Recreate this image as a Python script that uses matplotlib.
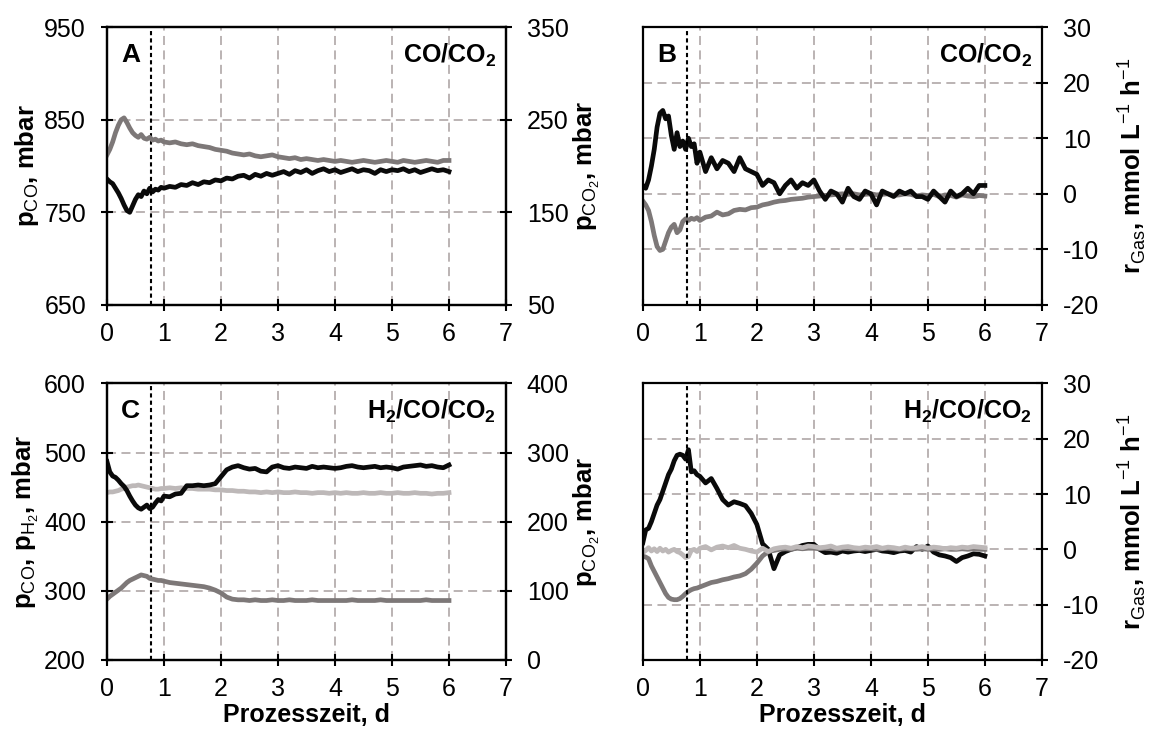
import matplotlib
matplotlib.use("Agg")
import matplotlib.pyplot as plt

plt.rcParams['font.family'] = ['Liberation Sans Narrow', 'Liberation Sans', 'DejaVu Sans']
plt.rcParams['mathtext.fontset'] = 'custom'
plt.rcParams['mathtext.rm'] = 'Liberation Sans'
plt.rcParams['mathtext.bf'] = 'Liberation Sans:bold'
plt.rcParams['axes.unicode_minus'] = False

# time grid, d
t = [0.00, 0.05, 0.10, 0.15, 0.20, 0.25, 0.30, 0.35, 0.40, 0.45,
     0.50, 0.55, 0.60, 0.65, 0.70, 0.75, 0.80, 0.85, 0.90, 0.95,
     1.0, 1.1, 1.2, 1.3, 1.4, 1.5, 1.6, 1.7, 1.8, 1.9,
     2.0, 2.1, 2.2, 2.3, 2.4, 2.5, 2.6, 2.7, 2.8, 2.9,
     3.0, 3.1, 3.2, 3.3, 3.4, 3.5, 3.6, 3.7, 3.8, 3.9,
     4.0, 4.1, 4.2, 4.3, 4.4, 4.5, 4.6, 4.7, 4.8, 4.9,
     5.0, 5.1, 5.2, 5.3, 5.4, 5.5, 5.6, 5.7, 5.8, 5.9,
     6.0]

# panel A: CO/CO2, partial pressures
a_pco = [786, 783, 781, 776, 771, 765, 758, 752, 750, 757,
         764, 769, 767, 773, 770, 776, 772, 775, 774, 777,
         776, 778, 777, 780, 779, 782, 780, 783, 782, 785,
         784, 787, 786, 789, 790, 787, 791, 789, 792, 790,
         792, 794, 791, 795, 793, 796, 792, 795, 797, 794,
         796, 793, 795, 797, 794, 796, 795, 792, 796, 794,
         796, 795, 797, 794, 796, 793, 795, 797, 795, 796,
         794]
a_pco2 = [212, 218, 226, 236, 244, 250, 252, 247, 241, 236,
          233, 231, 234, 230, 229, 231, 228, 229, 227, 228,
          226, 225, 226, 224, 223, 224, 222, 221, 220, 218,
          217, 216, 214, 213, 212, 213, 211, 210, 211, 212,
          210, 209, 208, 209, 207, 208, 207, 206, 207, 206,
          205, 206, 205, 204, 205, 206, 205, 204, 205, 206,
          205, 204, 206, 205, 204, 205, 206, 205, 204, 206,
          206]

# panel B: CO/CO2, rates
b_rco = [1.5, 1.0, 2.5, 5.0, 8.0, 12.0, 14.5, 15.0, 13.5, 14.0,
         10.5, 8.0, 11.0, 8.5, 9.5, 8.0, 10.0, 8.5, 9.0, 5.5,
         7.5, 4.0, 6.5, 4.5, 6.0, 5.5, 4.0, 6.5, 4.5, 4.0,
         3.5, 1.5, 2.5, 2.0, 0.0, 1.5, 2.5, 1.0, 2.0, 1.5,
         2.5, 0.5, -1.0, 0.5, 0.0, -1.5, 1.0, -0.5, -1.0, 0.5,
         0.0, -2.0, 0.5, 0.0, -0.5, 0.5, 0.0, 0.5, -0.5, -0.5,
         -1.0, 0.5, -0.5, -1.5, 0.5, -0.5, 0.0, 1.0, 0.0, 1.5,
         1.5]
b_rco2 = [-1.3, -2.0, -3.0, -5.0, -7.5, -9.5, -10.2, -10.0, -8.5, -7.0,
          -6.0, -5.5, -7.0, -6.5, -5.0, -4.5, -4.8, -4.4, -4.6, -4.3,
          -4.8, -4.2, -4.0, -3.3, -3.8, -3.6, -3.0, -2.8, -2.9, -2.5,
          -2.4, -2.0, -1.8, -1.5, -1.3, -1.2, -1.0, -0.9, -0.8, -0.6,
          -0.5, -0.4, -0.3, -0.2, -0.1, 0.0, -0.1, 0.0, -0.2, -0.1,
          0.0, -0.2, -0.1, 0.0, -0.3, -0.2, 0.0, -0.1, -0.4, -0.2,
          -0.3, -0.1, -0.5, -0.2, -0.3, -0.6, -0.2, -0.4, -0.5, -0.3,
          -0.4]

# panel C: H2/CO/CO2, partial pressures
c_pco = [487, 472, 466, 464, 460, 455, 451, 445, 437, 430,
         424, 420, 418, 421, 424, 419, 421, 427, 432, 430,
         437, 436, 440, 441, 452, 452, 453, 452, 453, 455,
         465, 475, 479, 481, 478, 476, 477, 473, 472, 479,
         481, 478, 477, 479, 478, 477, 480, 478, 479, 478,
         477, 478, 480, 481, 479, 478, 479, 480, 478, 479,
         478, 476, 479, 480, 481, 482, 480, 481, 479, 478,
         482]
c_ph2 = [442, 443, 443, 444, 445, 447, 448, 450, 451, 452,
         452, 453, 452, 451, 450, 449, 448, 447, 447, 448,
         448, 449, 448, 449, 448, 448, 447, 447, 447, 446,
         446, 445, 445, 444, 444, 443, 443, 442, 443, 442,
         443, 442, 442, 443, 442, 442, 441, 442, 442, 441,
         442, 441, 442, 441, 441, 442, 441, 441, 442, 441,
         441, 442, 441, 441, 442, 441, 441, 440, 441, 441,
         442]
c_pco2 = [88, 92, 95, 98, 101, 104, 108, 112, 115, 117,
          119, 121, 123, 122, 121, 118, 117, 116, 115, 115,
          114, 112, 111, 110, 109, 108, 107, 106, 104, 101,
          97, 91, 88, 87, 87, 86, 87, 86, 86, 87,
          86, 86, 87, 86, 86, 86, 87, 86, 86, 86,
          86, 86, 86, 87, 86, 86, 86, 86, 87, 86,
          86, 86, 86, 86, 86, 86, 87, 86, 86, 86,
          86]

# panel D: H2/CO/CO2, rates
d_rco = [1.2, 3.5, 3.8, 5.0, 6.5, 8.0, 9.0, 10.5, 12.0, 13.5,
         14.5, 16.0, 17.0, 17.2, 17.0, 16.3, 18.0, 14.0, 14.2, 13.5,
         13.2, 12.0, 12.8, 11.0, 9.0, 8.0, 8.6, 8.3, 7.9, 6.5,
         4.5, 1.0, 0.0, -3.5, -1.0, -0.4, 0.0, 0.3, 0.7, 0.9,
         0.9, 0.0, -0.6, -0.5, -0.7, -0.3, -0.5, -0.3, -0.2, -0.4,
         -0.2, 0.0, -0.3, -0.4, -0.6, -0.3, -0.2, -0.5, 0.5, 0.0,
         0.6, -0.5, -1.0, -1.2, -1.5, -2.2, -1.5, -1.2, -0.8, -0.9,
         -1.2]
d_rh2 = [-0.6, -0.2, 0.3, -0.3, 0.1, -0.4, 0.2, -0.3, 0.0, -0.5,
         -0.2, 0.0, -0.4, -0.6, -1.0, -1.5, -1.3, -0.2, 0.0, -0.4,
         0.2, 0.5, -0.1, 0.4, 0.6, 0.3, 0.7, 0.2, 0.0, -0.3,
         -0.5, 0.2, -0.4, 0.1, 0.3, 0.4, 0.2, 0.5, 0.3, 0.6,
         0.5, 0.3, 0.4, 0.6, 0.2, 0.4, 0.5, 0.3, 0.2, 0.4,
         0.3, 0.5, 0.2, 0.4, 0.3, 0.1, 0.4, 0.2, 0.3, 0.5,
         0.2, 0.4, 0.3, 0.1, 0.3, 0.2, 0.4, 0.3, 0.5, 0.4,
         0.3]
d_rco2 = [-1.2, -1.4, -1.7, -3.0, -4.0, -5.0, -6.0, -7.0, -8.0, -8.7,
          -9.0, -9.1, -9.1, -8.9, -8.5, -8.0, -7.6, -7.3, -7.1, -7.0,
          -6.8, -6.4, -6.0, -5.8, -5.5, -5.3, -5.0, -4.8, -4.4, -3.6,
          -2.5, -1.2, -0.4, -0.2, 0.0, 0.1, 0.0, 0.2, 0.1, 0.2,
          0.2, 0.1, 0.2, 0.1, 0.0, 0.2, 0.1, 0.1, 0.0, 0.1,
          0.1, 0.0, 0.1, 0.2, 0.1, 0.0, 0.1, 0.1, 0.0, 0.1,
          0.0, 0.1, 0.0, 0.1, 0.0, 0.0, 0.1, 0.0, 0.1, 0.0,
          0.0]

t_switch = 0.78
BLACK = '#0a0a0a'
DARK = '#7d7878'
LIGHT = '#bdb8b8'
GRID = '#b5aeae'
LW = 3.4
TICK_FS = 18
LABEL_FS = 18.5
XLABEL_FS = 18


def style(ax, left_ticks=True):
    ax.set_xlim(0, 7)
    ax.set_xticks(range(8))
    ax.grid(True, linestyle=(0, (5, 3)), color=GRID, lw=1.3)
    for s in ax.spines.values():
        s.set_linewidth(1.6)
    ax.tick_params(direction='inout', length=8, width=1.5, labelsize=TICK_FS,
                   left=left_ticks, labelleft=left_ticks)
    ax.tick_params(axis='y', pad=11)
    ax.tick_params(axis='x', pad=8)
    ax.axvline(t_switch, color='black', lw=1.5, linestyle=(0, (2, 1.5)), zorder=3)


def style_right(ax):
    for s in ax.spines.values():
        s.set_linewidth(1.6)
    ax.tick_params(direction='inout', length=8, width=1.5, labelsize=TICK_FS, pad=11)


def tag(ax, letter, gas):
    if letter:
        ax.text(0.035, 0.9, letter, transform=ax.transAxes, fontsize=19,
                fontweight='bold', va='center', ha='left', zorder=5)
    ax.text(0.975, 0.9, gas, transform=ax.transAxes, fontsize=18,
            fontweight='bold', va='center', ha='right', zorder=5)


fig = plt.figure(figsize=(11.5, 7.33), dpi=100)
axA = fig.add_axes([0.093, 0.584, 0.347, 0.379])
axB = fig.add_axes([0.559, 0.584, 0.347, 0.379])
axC = fig.add_axes([0.093, 0.0996, 0.347, 0.3774])
axD = fig.add_axes([0.559, 0.0996, 0.347, 0.3774])

r_label = r'$\mathbf{r}_{\mathrm{Gas}}$, mmol L$^{\mathrm{-1}}$ h$^{\mathrm{-1}}$'

# A
style(axA)
axA.plot(t, a_pco, color=BLACK, lw=LW, zorder=2)
axA.set_ylim(650, 950)
axA.set_yticks([650, 750, 850, 950])
axA.set_ylabel(r'p$_{\mathrm{CO}}$, mbar', fontsize=LABEL_FS, fontweight='bold', labelpad=2)
axA2 = axA.twinx()
style_right(axA2)
axA2.plot(t, a_pco2, color=DARK, lw=LW)
axA2.set_ylim(50, 350)
axA2.set_yticks([50, 150, 250, 350])
axA2.set_ylabel(r'p$_{\mathrm{CO_2}}$, mbar', fontsize=LABEL_FS, fontweight='bold', labelpad=2)
tag(axA, 'A', r'CO/CO$_{\mathbf{2}}$')

# B
style(axB, left_ticks=False)
axB.plot(t, b_rco2, color=DARK, lw=LW, zorder=2)
axB.plot(t, b_rco, color=BLACK, lw=LW, zorder=2)
axB.set_ylim(-20, 30)
axB.set_yticks([-20, -10, 0, 10, 20, 30])
axB.yaxis.tick_right()
axB.yaxis.set_label_position('right')
axB.tick_params(axis='y', right=True, labelright=True)
axB.set_ylabel(r_label, fontsize=LABEL_FS, fontweight='bold', labelpad=12)
tag(axB, 'B', r'CO/CO$_{\mathbf{2}}$')

# C
style(axC)
axC.plot(t, c_ph2, color=LIGHT, lw=LW, zorder=2)
axC.plot(t, c_pco, color=BLACK, lw=LW, zorder=2)
axC.set_ylim(200, 600)
axC.set_yticks([200, 300, 400, 500, 600])
axC.set_ylabel(r'p$_{\mathrm{CO}}$, p$_{\mathrm{H_2}}$, mbar', fontsize=LABEL_FS, fontweight='bold', labelpad=2)
axC.set_xlabel('Prozesszeit, d', fontsize=XLABEL_FS, fontweight='bold', labelpad=2)
axC2 = axC.twinx()
style_right(axC2)
axC2.plot(t, c_pco2, color=DARK, lw=LW)
axC2.set_ylim(0, 400)
axC2.set_yticks([0, 100, 200, 300, 400])
axC2.set_ylabel(r'p$_{\mathrm{CO_2}}$, mbar', fontsize=LABEL_FS, fontweight='bold', labelpad=2)
tag(axC, 'C', r'H$_{\mathbf{2}}$/CO/CO$_{\mathbf{2}}$')

# D
style(axD, left_ticks=False)
axD.plot(t, d_rco, color=BLACK, lw=LW, zorder=2)
axD.plot(t, d_rco2, color=DARK, lw=LW, zorder=2)
axD.plot(t, d_rh2, color=LIGHT, lw=LW, zorder=2)
axD.set_ylim(-20, 30)
axD.set_yticks([-20, -10, 0, 10, 20, 30])
axD.yaxis.tick_right()
axD.yaxis.set_label_position('right')
axD.tick_params(axis='y', right=True, labelright=True)
axD.set_ylabel(r_label, fontsize=LABEL_FS, fontweight='bold', labelpad=12)
axD.set_xlabel('Prozesszeit, d', fontsize=XLABEL_FS, fontweight='bold', labelpad=2)
tag(axD, None, r'H$_{\mathbf{2}}$/CO/CO$_{\mathbf{2}}$')

fig.savefig('out.png', dpi=100)
